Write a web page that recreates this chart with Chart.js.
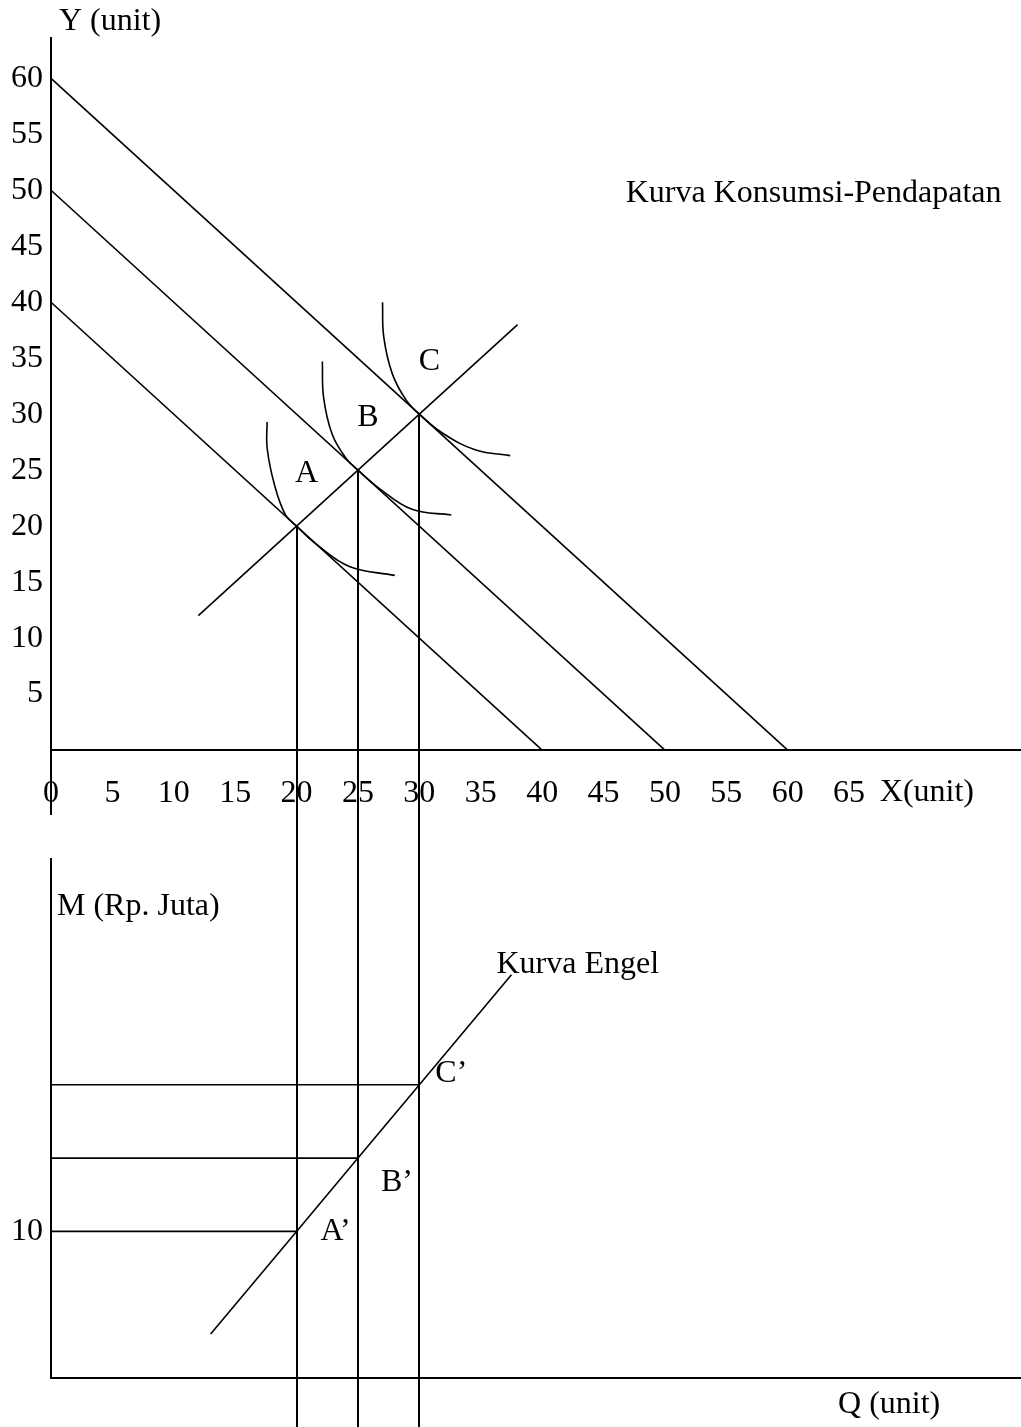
<!DOCTYPE html>
<html>
<head>
<meta charset="utf-8">
<title>Kurva Konsumsi-Pendapatan dan Kurva Engel</title>
<script src="https://cdn.jsdelivr.net/npm/chart.js@4.4.0/dist/chart.umd.min.js"></script>
<style>
  html, body { margin: 0; padding: 0; background: #fff; }
  #wrap { position: relative; width: 1021px; height: 1427px; overflow: hidden; }
  #topBox { position: absolute; left: 0; top: 0; }
  #bottomBox { position: absolute; left: 0; top: 815px; }
  canvas { display: block; }
</style>
</head>
<body>
<div id="wrap">
  <div id="topBox"><canvas id="kpkChart" width="1021" height="815"></canvas></div>
  <div id="bottomBox"><canvas id="engelChart" width="1021" height="612"></canvas></div>
</div>
<script>
// label sumbu
const xTicks = [0, 5, 10, 15, 20, 25, 30, 35, 40, 45, 50, 55, 60, 65];
const yTicks = [5, 10, 15, 20, 25, 30, 35, 40, 45, 50, 55, 60];
const mTicks = [10];

// garis anggaran (titik potong sumbu X = sumbu Y)
const budgetIntercepts = [40, 50, 60];

// titik keseimbangan A, B, C
const eqNames = ['A', 'B', 'C'];
const eqX = [20, 25, 30];
const eqY = [20, 25, 30];

// kurva konsumsi-pendapatan
const iccX = [12, 20, 25, 30, 38];
const iccY = [12, 20, 25, 30, 38];

// kurva indiferen
const ic1X = [17.6, 17.6, 18.2, 19.1, 20, 21.6, 24.3, 28.0];
const ic1Y = [29.3, 27.0, 23.7, 21.0, 20, 18.4, 16.4, 15.6];
const ic2X = [22.1, 22.2, 22.9, 24.0, 25, 26.7, 29.4, 32.6];
const ic2Y = [34.7, 31.5, 28.2, 26.1, 25, 23.4, 21.5, 21.0];
const ic3X = [27.0, 27.1, 27.8, 28.9, 30, 31.9, 34.6, 37.4];
const ic3Y = [40.0, 36.9, 33.6, 31.3, 30, 28.3, 26.8, 26.3];

// kurva Engel (pendapatan M terhadap jumlah Q)
const engelNames = ['A’', 'B’', 'C’'];
const incomeM = [10, 15, 20];
const engelQ = [13, 20, 25, 30, 37.5];
const engelM = [3, 10, 15, 20, 27.5];

const INK = '#000';
const SERIF = "'Times New Roman', 'Liberation Serif', serif";
const FONT_SIZE = 32;

Chart.defaults.font.family = SERIF;
Chart.defaults.font.size = FONT_SIZE;
Chart.defaults.color = INK;

function curve(xs, ys, tension) {
    return {
        data: xs.map((x, i) => ({ x: x, y: ys[i] })),
        showLine: true,
        borderColor: INK,
        borderWidth: 1.6,
        pointRadius: 0,
        tension: tension || 0,
        fill: false
    };
}

function fixedTicks(list) {
    return function (scale) {
        scale.ticks = list.map(v => ({ value: v }));
    };
}

// lebar sumbu Y tetap, tanpa padding label di ujung atas/bawah
function fixedLeftAxis(scale) {
    scale.width = 51;
    scale.paddingTop = 0;
    scale.paddingBottom = 0;
}

function writeText(ctx, text, x, y, align) {
    ctx.save();
    ctx.font = FONT_SIZE + 'px ' + SERIF;
    ctx.fillStyle = INK;
    ctx.textAlign = align || 'left';
    ctx.textBaseline = 'middle';
    ctx.fillText(text, x, y);
    ctx.restore();
}

function vLine(ctx, px, y1, y2) {
    ctx.save();
    ctx.strokeStyle = INK;
    ctx.lineWidth = 2;
    ctx.beginPath();
    ctx.moveTo(px, y1);
    ctx.lineTo(px, y2);
    ctx.stroke();
    ctx.restore();
}

// skala X sama untuk kedua grafik supaya garis bantu segaris
const X_MIN = 0, X_MAX = 79;
const Y_MIN = -5.8, Y_MAX = 63.6;
const M_MIN = 0, M_MAX = 35.4;

const baseX = {
    type: 'linear',
    min: X_MIN,
    max: X_MAX,
    grid: { display: false, drawTicks: false },
    border: { color: INK, width: 2 }
};

// plugin teks dan garis bantu grafik atas
const topNotes = {
    id: 'topNotes',
    afterDatasetsDraw(chart) {
        const { ctx, chartArea, scales: { x, y } } = chart;
        eqX.forEach((q, i) => {
            const px = Math.round(x.getPixelForValue(q));
            vLine(ctx, px, y.getPixelForValue(eqY[i]), chart.height);
        });
        eqNames.forEach((name, i) => {
            writeText(ctx, name, x.getPixelForValue(eqX[i]) + 10, y.getPixelForValue(eqY[i]) - 53, 'center');
        });
        writeText(ctx, 'Y (unit)', chartArea.left + 8, chartArea.top - 16);
        writeText(ctx, 'Kurva Konsumsi-Pendapatan', x.getPixelForValue(46.8), y.getPixelForValue(49.7));
        writeText(ctx, 'X(unit)', x.getPixelForValue(67.5), y.getPixelForValue(0) + 43);
    }
};

// plugin teks dan garis bantu grafik bawah
const bottomNotes = {
    id: 'bottomNotes',
    afterDatasetsDraw(chart) {
        const { ctx, chartArea, scales: { x, m } } = chart;
        eqX.forEach(q => {
            vLine(ctx, Math.round(x.getPixelForValue(q)), 0, chart.height);
        });
        const offsets = [[39, 0], [39, 25], [32, -11]];
        engelNames.forEach((name, i) => {
            writeText(ctx, name,
                x.getPixelForValue(eqX[i]) + offsets[i][0],
                m.getPixelForValue(incomeM[i]) + offsets[i][1], 'center');
        });
        const last = engelQ.length - 1;
        writeText(ctx, 'Kurva Engel', x.getPixelForValue(engelQ[last]) - 15, m.getPixelForValue(engelM[last]) - 10);
        writeText(ctx, 'M (Rp. Juta)', chartArea.left + 6, chartArea.top + 48);
        writeText(ctx, 'Q (unit)', x.getPixelForValue(64.1), chartArea.bottom + 27);
    }
};

function initTopChart() {
    const datasets = budgetIntercepts.map(v => curve([0, v], [v, 0]));
    datasets.push(curve(iccX, iccY));
    datasets.push(curve(ic1X, ic1Y, 0.4));
    datasets.push(curve(ic2X, ic2Y, 0.4));
    datasets.push(curve(ic3X, ic3Y, 0.4));

    new Chart(document.getElementById('kpkChart'), {
        type: 'scatter',
        data: { datasets: datasets },
        options: {
            responsive: false,
            animation: false,
            layout: { padding: { top: 38, left: 0, right: 0, bottom: 0 } },
            plugins: { legend: { display: false }, tooltip: { enabled: false } },
            scales: {
                x: Object.assign({}, baseX, {
                    position: { y: 0 },
                    afterBuildTicks: fixedTicks(xTicks),
                    ticks: { padding: 24, maxRotation: 0, autoSkip: false }
                }),
                y: {
                    type: 'linear',
                    position: 'left',
                    min: Y_MIN,
                    max: Y_MAX,
                    grid: { display: false, drawTicks: false },
                    border: { color: INK, width: 2 },
                    afterBuildTicks: fixedTicks(yTicks),
                    afterFit: fixedLeftAxis,
                    ticks: { padding: 8, autoSkip: false }
                }
            }
        },
        plugins: [topNotes]
    });
}

function initEngelChart() {
    const datasets = incomeM.map((v, i) => curve([0, eqX[i]], [v, v]));
    datasets.push(curve(engelQ, engelM));
    datasets.forEach(d => { d.yAxisID = 'm'; });

    new Chart(document.getElementById('engelChart'), {
        type: 'scatter',
        data: { datasets: datasets },
        options: {
            responsive: false,
            animation: false,
            layout: { padding: { top: 44, left: 0, right: 0, bottom: 0 } },
            plugins: { legend: { display: false }, tooltip: { enabled: false } },
            scales: {
                x: Object.assign({}, baseX, {
                    position: 'bottom',
                    ticks: { display: false },
                    afterFit: s => { s.height = 49; }
                }),
                m: {
                    type: 'linear',
                    axis: 'y',
                    position: 'left',
                    min: M_MIN,
                    max: M_MAX,
                    grid: { display: false, drawTicks: false },
                    border: { color: INK, width: 2 },
                    afterBuildTicks: fixedTicks(mTicks),
                    afterFit: fixedLeftAxis,
                    ticks: { padding: 8, autoSkip: false }
                }
            }
        },
        plugins: [bottomNotes]
    });
}

document.addEventListener('DOMContentLoaded', function () {
    initTopChart();
    initEngelChart();
});
</script>
</body>
</html>
